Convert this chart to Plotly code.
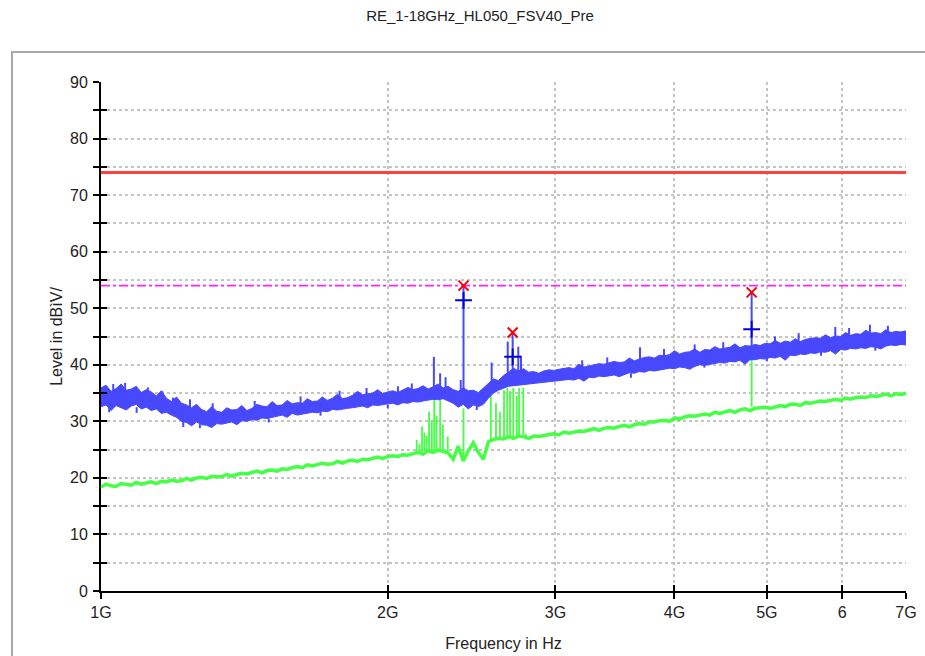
import numpy as np
import plotly.graph_objects as go

TITLE = "RE_1-18GHz_HL050_FSV40_Pre"
X_TITLE = "Frequency in Hz"
Y_TITLE = "Level in dBìV/"

F_START_HZ = 1e9
F_STOP_HZ = 7e9
N_POINTS = 161

# Peak trace (blue) – upper / lower edge of the noisy band, dBµV/m
BLUE_UPPER = [
    35.9, 36.4, 35.3, 35.8, 36.6, 35.5, 35.7, 36.2, 35.1, 35.6,
    35.2, 34.5, 35.4, 34.1, 33.5, 34.3, 33.2, 32.9, 32.4, 33.0,
    32.1, 31.7, 32.6, 31.8, 31.6, 32.4, 32.0, 32.1, 32.8, 31.9,
    32.3, 33.0, 32.7, 32.6, 33.5, 32.8, 32.9, 33.7, 33.1, 33.3,
    33.2, 34.0, 33.5, 33.6, 34.3, 33.7, 34.1, 34.8, 34.0, 34.2,
    34.6, 35.3, 34.7, 34.8, 35.0, 35.6, 34.9, 35.2, 35.4, 35.1,
    35.5, 36.0, 35.6, 35.8, 36.3, 35.7, 36.1, 36.6, 35.9, 36.2,
    35.6, 35.3, 35.9, 35.4, 35.5, 35.1, 35.9, 36.7, 37.5, 37.2,
    38.1, 38.7, 39.4, 38.9, 39.3, 38.7, 38.8, 38.5, 38.9, 39.1,
    39.0, 39.2, 39.4, 39.5, 39.3, 40.1, 39.6, 39.8, 39.9, 40.2,
    40.1, 40.3, 40.6, 40.4, 40.5, 41.2, 40.7, 41.0, 41.3, 41.4,
    41.2, 41.7, 41.6, 41.8, 42.5, 41.9, 42.2, 42.3, 42.8, 42.2,
    42.7, 42.6, 43.2, 42.8, 43.0, 43.1, 43.7, 43.0, 43.4, 43.3,
    43.6, 43.4, 43.8, 43.7, 44.3, 43.8, 44.2, 44.0, 44.6, 44.1,
    44.5, 44.6, 44.8, 44.7, 45.3, 44.8, 45.1, 45.0, 45.7, 45.2,
    45.5, 45.4, 46.1, 45.6, 45.7, 45.5, 46.2, 45.7, 45.9, 45.8,
    46.0,
]
BLUE_LOWER = [
    32.6, 32.9, 31.9, 32.8, 32.4, 32.0, 32.7, 33.0, 32.2, 32.5,
    31.9, 32.2, 31.4, 31.6, 31.1, 30.7, 30.0, 29.8, 29.2, 29.9,
    29.4, 29.3, 28.9, 29.6, 29.5, 29.7, 29.9, 29.4, 30.1, 30.0,
    30.3, 30.2, 30.6, 30.5, 30.7, 30.8, 31.1, 30.7, 31.4, 31.1,
    31.3, 31.4, 31.6, 31.5, 31.8, 31.7, 32.1, 32.0, 32.2, 32.3,
    32.4, 32.5, 32.7, 32.4, 32.9, 32.8, 33.0, 33.1, 33.2, 32.9,
    33.3, 33.2, 33.5, 33.4, 33.6, 33.7, 33.9, 33.8, 34.0, 33.6,
    33.2, 32.5, 33.0, 32.2, 32.9, 32.6, 33.0, 34.1, 35.0, 35.5,
    35.9, 36.2, 36.3, 36.4, 36.5, 36.6, 36.6, 36.8, 36.9, 37.0,
    37.0, 37.1, 37.2, 37.4, 37.3, 37.6, 37.1, 37.8, 37.7, 38.0,
    37.9, 38.1, 38.2, 37.9, 38.3, 38.6, 38.5, 38.8, 38.7, 39.0,
    38.9, 39.1, 39.2, 39.4, 39.3, 39.6, 39.5, 39.2, 39.7, 40.0,
    39.9, 40.1, 40.2, 40.4, 40.3, 40.6, 40.5, 40.8, 40.1, 40.9,
    40.9, 41.1, 41.0, 41.3, 41.2, 41.5, 40.8, 41.7, 41.6, 41.9,
    41.8, 42.1, 42.0, 42.3, 42.2, 42.5, 41.9, 42.7, 42.6, 42.9,
    42.8, 43.0, 42.9, 43.2, 43.1, 42.8, 43.3, 43.5, 43.4, 43.6,
    43.5,
]
# Narrow spikes / dips on the peak trace (GHz, end level, start level)
BLUE_SPIKE_F = [1.03, 1.06, 1.12, 1.16, 1.19, 1.24, 1.31, 1.45, 1.62, 1.78,
                1.9, 2.05, 2.12, 2.236, 2.27, 2.30, 2.386, 2.402, 2.571,
                2.673, 2.705, 2.742, 2.76, 3.2, 3.4, 3.68, 3.9, 4.2, 4.5,
                4.82, 5.1, 5.4, 5.9, 6.1, 6.416, 6.7,
                1.02, 1.09, 1.22, 1.27, 1.5, 1.7, 2.0, 2.48, 3.6, 4.3,
                5.0, 5.7, 6.5]
BLUE_SPIKE_TOP = [36.6, 36.8, 36.0, 35.3, 34.2, 33.9, 33.2, 33.6, 34.4, 35.4,
                  35.9, 36.2, 36.7, 41.4, 38.5, 37.8, 37.3, 54.0, 40.4,
                  44.1, 45.7, 43.2, 41.6, 40.8, 41.3, 43.1, 42.8, 43.6, 44.0,
                  52.8, 45.0, 45.6, 46.7, 46.5, 47.1, 46.9,
                  31.6, 31.5, 29.0, 28.8, 29.8, 31.0, 32.3, 32.0, 37.7, 39.5,
                  40.6, 41.6, 42.5]
BLUE_SPIKE_BASE = [34.0, 35.0, 34.5, 33.0, 32.0, 32.0, 31.5, 32.0, 33.0, 34.0,
                   34.5, 35.0, 35.4, 35.0, 35.0, 35.0, 34.5, 34.5, 36.0,
                   37.0, 37.0, 37.0, 37.0, 39.5, 40.0, 40.0, 41.5, 42.3, 42.7,
                   42.0, 44.0, 44.3, 43.5, 45.3, 44.0, 45.7,
                   33.0, 32.5, 30.0, 29.5, 30.5, 31.8, 33.0, 32.7, 38.5, 40.2,
                   41.3, 42.3, 43.2]

# Average trace (green)
GREEN = [
    18.4, 18.9, 18.6, 18.5, 19.0, 18.8, 18.7, 19.2, 18.9, 19.1,
    19.3, 19.0, 19.4, 19.3, 19.6, 19.4, 19.5, 19.9, 19.6, 20.0,
    20.1, 19.9, 20.3, 20.2, 20.2, 20.6, 20.3, 20.6, 20.8, 20.7,
    20.9, 21.2, 20.9, 21.3, 21.4, 21.2, 21.6, 21.5, 21.8, 22.0,
    21.8, 22.3, 22.1, 22.3, 22.6, 22.4, 22.5, 22.9, 22.6, 23.0,
    23.1, 22.9, 23.3, 23.2, 23.4, 23.7, 23.4, 23.8, 23.9, 23.8,
    24.1, 24.0, 24.3, 24.5, 24.2, 24.8, 24.5, 24.9, 24.7, 24.4,
    23.3, 25.6, 23.0, 24.8, 26.2, 24.5, 23.3, 26.4, 26.8, 27.0,
    26.9, 27.3, 27.0, 27.4, 27.3, 27.0, 27.4, 27.3, 27.5, 27.6,
    27.8, 27.6, 28.1, 27.9, 28.1, 28.3, 28.2, 28.4, 28.7, 28.4,
    28.8, 28.9, 28.8, 29.1, 29.3, 29.0, 29.4, 29.6, 29.5, 29.9,
    29.9, 30.1, 30.2, 30.0, 30.6, 30.4, 30.8, 31.0, 30.9, 31.1,
    31.3, 31.1, 31.6, 31.4, 31.6, 31.9, 31.6, 32.0, 32.2, 31.9,
    32.3, 32.4, 32.5, 32.3, 32.6, 32.8, 32.6, 33.0, 33.0, 32.8,
    33.3, 33.2, 33.4, 33.6, 33.5, 33.7, 33.9, 33.7, 34.1, 33.9,
    34.2, 34.3, 34.2, 34.5, 34.4, 34.6, 34.8, 34.5, 34.9, 34.7,
    35.0,
]
GREEN_SPIKE_F = [2.145, 2.16, 2.173, 2.185, 2.197, 2.210, 2.225, 2.238, 2.25,
                 2.270, 2.285, 2.312, 2.402,
                 2.566, 2.598, 2.623, 2.649, 2.670, 2.688, 2.709, 2.732,
                 2.747, 2.775, 2.793, 4.82]
GREEN_SPIKE_TOP = [26.7, 26.0, 29.1, 28.0, 27.5, 31.7, 30.2, 34.1, 31.0,
                   33.8, 29.4, 27.3, 32.3,
                   34.6, 33.2, 31.7, 35.5, 35.9, 35.3, 35.9, 34.5,
                   35.9, 35.9, 27.8, 41.4]
GREEN_SPIKE_BASE = [24.6, 24.6, 24.6, 24.7, 24.7, 24.7, 24.8, 24.8, 24.8,
                    24.8, 24.7, 24.6, 23.0,
                    26.8, 26.9, 27.0, 27.0, 27.1, 27.1, 27.2, 27.2,
                    27.2, 27.3, 27.3, 32.6]

# Final measurement markers
PEAK_F = [2.402, 2.705, 4.82]
PEAK_MAX = [54.0, 45.7, 52.8]
PEAK_QP = [51.4, 41.4, 46.3]

LIMIT_PK = 74.0
LIMIT_AV = 54.0

X_TICKS_GHZ = [1, 2, 3, 4, 5, 6, 7]
X_TICK_TEXT = ["1G", "2G", "3G", "4G", "5G", "6", "7G"]
Y_TICKS = list(range(0, 91, 5))
Y_TICK_TEXT = [str(v) if v % 10 == 0 else "" for v in Y_TICKS]

BLUE = "#4848FF"
GREEN_C = "#44FF44"
FONT = "Liberation Sans, Arial, sans-serif"

freq = np.geomspace(F_START_HZ, F_STOP_HZ, N_POINTS)


def spikes(fs, tops, bases):
    xs, ys = [], []
    for f, t, b in zip(fs, tops, bases):
        xs += [f * 1e9, f * 1e9, None]
        ys += [b, t, None]
    return xs, ys


fig = go.Figure()

# limit lines
fig.add_trace(go.Scatter(x=[F_START_HZ, F_STOP_HZ], y=[LIMIT_PK, LIMIT_PK], mode="lines",
                         line=dict(color="#FF4040", width=3), hoverinfo="skip"))
fig.add_trace(go.Scatter(x=[F_START_HZ, F_STOP_HZ], y=[LIMIT_AV, LIMIT_AV], mode="lines",
                         line=dict(color="#FF22FF", width=1.6, dash="dashdot"), hoverinfo="skip"))

# green average trace
gx, gy = spikes(GREEN_SPIKE_F, GREEN_SPIKE_TOP, GREEN_SPIKE_BASE)
fig.add_trace(go.Scatter(x=gx, y=gy, mode="lines", line=dict(color=GREEN_C, width=1.8),
                         hoverinfo="skip"))
fig.add_trace(go.Scatter(x=freq, y=GREEN, mode="lines", line=dict(color=GREEN_C, width=3.5),
                         hoverinfo="skip"))

# blue peak band
fig.add_trace(go.Scatter(x=freq, y=BLUE_LOWER, mode="lines", line=dict(color=BLUE, width=1),
                         hoverinfo="skip"))
fig.add_trace(go.Scatter(x=freq, y=BLUE_UPPER, mode="lines", line=dict(color=BLUE, width=1),
                         fill="tonexty", fillcolor=BLUE, hoverinfo="skip"))
bx, by = spikes(BLUE_SPIKE_F, BLUE_SPIKE_TOP, BLUE_SPIKE_BASE)
fig.add_trace(go.Scatter(x=bx, y=by, mode="lines", line=dict(color=BLUE, width=2),
                         hoverinfo="skip"))

# markers
fig.add_trace(go.Scatter(x=[f * 1e9 for f in PEAK_F], y=PEAK_QP, mode="markers",
                         marker=dict(symbol="cross-thin", size=12, line=dict(color="#0000DD", width=2)),
                         hoverinfo="skip"))
fig.add_trace(go.Scatter(x=[f * 1e9 for f in PEAK_F], y=PEAK_MAX, mode="markers",
                         marker=dict(symbol="x-thin", size=10, line=dict(color="#FF0000", width=2)),
                         hoverinfo="skip"))

# dummy trace for the overlay axes (inside half of the crossing ticks)
fig.add_trace(go.Scatter(x=[F_START_HZ], y=[0], xaxis="x2", yaxis="y2", mode="markers",
                         marker=dict(opacity=0), hoverinfo="skip"))

xr = [np.log10(F_START_HZ), np.log10(F_STOP_HZ)]
xt = [v * 1e9 for v in X_TICKS_GHZ]

fig.update_layout(
    width=925, height=656,
    paper_bgcolor="white", plot_bgcolor="white",
    showlegend=False,
    margin=dict(l=101, r=19, t=82, b=65, autoexpand=False),
    font=dict(family=FONT, color="#222222"),
    title=dict(text=TITLE, x=480 / 925, xanchor="center", y=1 - 16 / 656, yanchor="middle",
               xref="container", yref="container", font=dict(size=15, color="#222222", family=FONT)),
    xaxis=dict(type="log", range=xr, tickvals=xt, ticktext=X_TICK_TEXT,
               showline=True, linecolor="black", linewidth=2,
               ticks="outside", ticklen=6, tickwidth=2, tickcolor="black",
               showgrid=True, gridcolor="#C4C4C4", griddash="dot", gridwidth=1.5,
               tickfont=dict(size=16, color="#222222"), ticklabelstandoff=0,
               title=dict(text=X_TITLE, font=dict(size=16, color="#222222"), standoff=18),
               zeroline=False),
    yaxis=dict(range=[0, 90], tickvals=Y_TICKS, ticktext=Y_TICK_TEXT,
               showline=True, linecolor="black", linewidth=2,
               ticks="outside", ticklen=6, tickwidth=2, tickcolor="black",
               showgrid=True, gridcolor="#C4C4C4", griddash="dot", gridwidth=1.5,
               tickfont=dict(size=16, color="#222222"), ticklabelstandoff=2,
               title=dict(text=Y_TITLE, font=dict(size=16, color="#222222"), standoff=3),
               zeroline=False),
    xaxis2=dict(type="log", range=xr, overlaying="x", anchor="y2", tickvals=xt,
                showticklabels=False, ticks="inside", ticklen=6, tickwidth=2, tickcolor="black",
                showgrid=False, showline=False, zeroline=False),
    yaxis2=dict(range=[0, 90], overlaying="y", anchor="x2", side="left", tickvals=Y_TICKS,
                showticklabels=False, ticks="inside", ticklen=6, tickwidth=2, tickcolor="black",
                showgrid=False, showline=False, zeroline=False),
    shapes=[dict(type="rect", xref="paper", yref="paper", x0=-0.1106, x1=1.2, y0=-0.4, y1=1.059,
                 line=dict(color="#A8A8A8", width=2), layer="below")],
)

fig.write_html("out.html", config={"displayModeBar": False},
               post_script="document.body.style.margin='0';")
